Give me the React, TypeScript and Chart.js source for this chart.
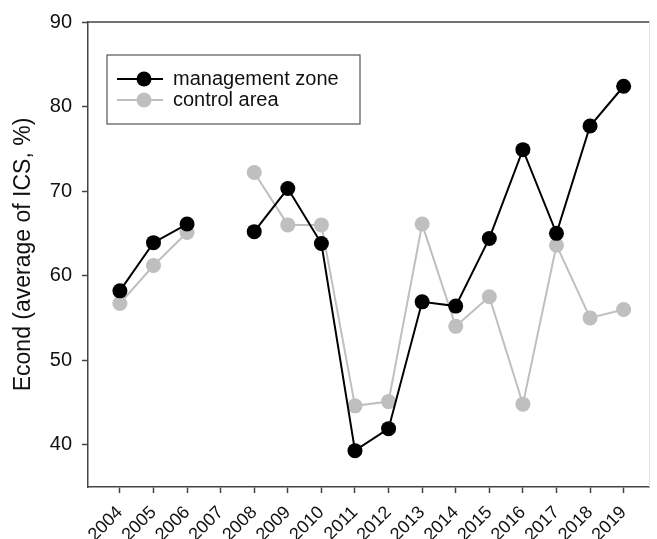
import React, { useEffect, useRef } from "react";
import { Chart, registerables } from "chart.js";

Chart.register(...registerables);

const years = [2004, 2005, 2006, 2007, 2008, 2009, 2010, 2011, 2012, 2013, 2014, 2015, 2016, 2017, 2018, 2019];
const managementZone: (number | null)[] = [58.2, 63.9, 66.1, null, 65.2, 70.3, 63.8, 39.3, 41.9, 56.9, 56.4, 64.4, 74.9, 65.0, 77.7, 82.4];
const controlArea: (number | null)[] = [56.7, 61.2, 65.1, null, 72.2, 66.0, 66.0, 44.6, 45.1, 66.1, 54.0, 57.5, 44.8, 63.6, 55.0, 56.0];
const yTicks = [40, 50, 60, 70, 80, 90];
const seriesLabels = ["management zone", "control area"];
const yTitle = "Econd (average of ICS, %)";

const BLACK = "#000000";
const GRAY = "#bfbfbf";
const AXIS = "#444444";
const FONT = "'Liberation Sans', Arial, sans-serif";

const frameAndLegend = {
  id: "frameAndLegend",
  afterDraw(chart: any) {
    const { ctx, chartArea } = chart;
    ctx.save();
    ctx.strokeStyle = AXIS;
    ctx.lineWidth = 1.5;
    ctx.beginPath();
    ctx.moveTo(chartArea.left, chartArea.top);
    ctx.lineTo(chartArea.right, chartArea.top);
    ctx.stroke();
    ctx.strokeStyle = "#e2e2e2";
    ctx.lineWidth = 1;
    ctx.beginPath();
    ctx.moveTo(chartArea.right, chartArea.top);
    ctx.lineTo(chartArea.right, chartArea.bottom);
    ctx.stroke();

    const bx = chartArea.left + 19;
    const by = chartArea.top + 33;
    const bw = 253;
    const bh = 69;
    ctx.strokeStyle = "#555555";
    ctx.lineWidth = 1.2;
    ctx.strokeRect(bx, by, bw, bh);
    const items = chart.data.datasets;
    const rowY = [by + 24, by + 45];
    items.forEach((ds: any, i: number) => {
      const y = rowY[i];
      ctx.strokeStyle = ds.borderColor;
      ctx.lineWidth = 2;
      ctx.beginPath();
      ctx.moveTo(bx + 10, y);
      ctx.lineTo(bx + 56, y);
      ctx.stroke();
      ctx.fillStyle = ds.pointBackgroundColor;
      ctx.beginPath();
      ctx.arc(bx + 37, y, 7.5, 0, Math.PI * 2);
      ctx.fill();
      ctx.fillStyle = "#111111";
      ctx.font = `20px ${FONT}`;
      ctx.textBaseline = "middle";
      ctx.textAlign = "left";
      ctx.fillText(ds.label, bx + 66, y);
    });
    ctx.restore();
  },
};

export default function App() {
  const canvasRef = useRef<HTMLCanvasElement | null>(null);

  useEffect(() => {
    document.body.style.margin = "0";
    const canvas = canvasRef.current;
    if (!canvas) return;
    const toPts = (arr: (number | null)[]) => years.map((x, i) => ({ x, y: arr[i] }));
    const chart = new Chart(canvas, {
      type: "line",
      data: {
        datasets: [
          {
            label: seriesLabels[0],
            data: toPts(managementZone) as any,
            borderColor: BLACK,
            backgroundColor: BLACK,
            pointBackgroundColor: BLACK,
            pointBorderColor: BLACK,
            pointRadius: 7.5,
            pointBorderWidth: 0,
            borderWidth: 2,
            spanGaps: false,
            order: 1,
          },
          {
            label: seriesLabels[1],
            data: toPts(controlArea) as any,
            borderColor: GRAY,
            backgroundColor: GRAY,
            pointBackgroundColor: GRAY,
            pointBorderColor: GRAY,
            pointRadius: 7.5,
            pointBorderWidth: 0,
            borderWidth: 2,
            spanGaps: false,
            order: 2,
          },
        ],
      },
      options: {
        animation: false,
        responsive: false,
        maintainAspectRatio: false,
        layout: { padding: { top: 22, right: 2, left: 0, bottom: 0 } },
        plugins: {
          legend: { display: false },
          tooltip: { enabled: false },
        },
        scales: {
          x: {
            type: "linear",
            min: 2003.05,
            max: 2019.77,
            afterBuildTicks: (scale: any) => {
              scale.ticks = years.map((v) => ({ value: v }));
            },
            afterFit: (scale: any) => {
              scale.height = 52;
            },
            grid: { drawOnChartArea: false, drawTicks: true, tickLength: 6, tickColor: AXIS, tickWidth: 1.5 },
            border: { display: true, color: AXIS, width: 1.5 },
            ticks: {
              autoSkip: false,
              maxRotation: 45,
              minRotation: 45,
              padding: 9,
              color: "#111111",
              font: { family: FONT, size: 18 },
              callback: (v: any) => String(v),
            },
          },
          y: {
            type: "linear",
            min: 35,
            max: 90,
            afterBuildTicks: (scale: any) => {
              scale.ticks = yTicks.map((v) => ({ value: v }));
            },
            afterFit: (scale: any) => {
              scale.width = 88;
            },
            grid: { drawOnChartArea: false, drawTicks: true, tickLength: 6, tickColor: AXIS, tickWidth: 1.5 },
            border: { display: true, color: AXIS, width: 1.5 },
            ticks: {
              padding: 10,
              color: "#111111",
              font: { family: FONT, size: 20 },
            },
            title: {
              display: true,
              text: yTitle,
              color: "#111111",
              font: { family: FONT, size: 23 },
              padding: { top: 10, bottom: 0 },
            },
          },
        },
      },
      plugins: [frameAndLegend],
    });
    return () => chart.destroy();
  }, []);

  return (
    <div style={{ width: 657, height: 539, position: "relative" }}>
      <canvas ref={canvasRef} width={657} height={539} style={{ width: 657, height: 539 }} />
    </div>
  );
}
